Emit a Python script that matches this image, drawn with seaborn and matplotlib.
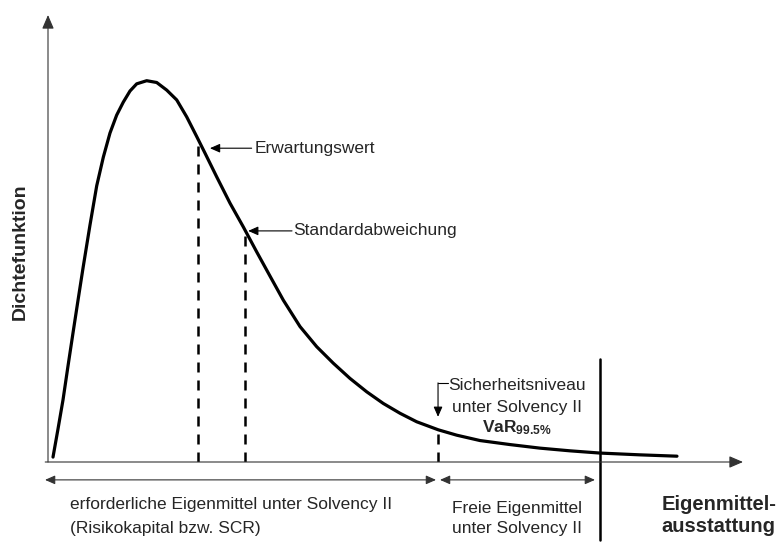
import numpy as np
import matplotlib
matplotlib.use("Agg")
import matplotlib.pyplot as plt
import seaborn as sns
import pandas as pd

sns.set_style("white")
plt.rcParams["font.family"] = ["Liberation Sans", "DejaVu Sans"]
plt.rcParams["mathtext.fontset"] = "custom"
plt.rcParams["mathtext.rm"] = "Liberation Sans"
plt.rcParams["mathtext.bf"] = "Liberation Sans:bold"

# Dichtekurve
eigenmittel = [0.72, 1.44, 2.16, 2.88, 3.60, 4.32, 5.04, 6.04, 7.01, 7.96, 8.92,
               9.88, 10.83, 11.80, 12.76, 14.20, 15.64, 17.08, 18.52, 19.96, 21.40,
               22.59, 24.27, 26.19, 28.10, 30.03, 31.94, 33.86, 36.26, 38.66, 41.05,
               43.45, 45.86, 48.24, 50.65, 53.05, 56.16, 58.81, 62.16, 66.47, 70.79,
               75.11, 79.42, 85.18, 90.50]
dichte = [0.011, 0.074, 0.139, 0.215, 0.289, 0.362, 0.434, 0.530, 0.618, 0.682, 0.736,
          0.776, 0.805, 0.830, 0.846, 0.853, 0.849, 0.832, 0.810, 0.772, 0.728,
          0.691, 0.638, 0.579, 0.526, 0.470, 0.416, 0.362, 0.303, 0.258, 0.221,
          0.187, 0.157, 0.131, 0.109, 0.090, 0.072, 0.060, 0.048, 0.039, 0.031,
          0.025, 0.020, 0.016, 0.013]

# Kennzahlen: Erwartungswert, Standardabweichung, VaR 99.5%
kennzahl_x = [21.63, 28.35, 56.12]
kennzahl_y = [0.715, 0.519, 0.072]
eigenmittel_vorhanden = 79.42

df = pd.DataFrame({"x": eigenmittel, "y": dichte})

fig = plt.figure(figsize=(7.77, 5.45), dpi=100)
ax = fig.add_axes([48 / 777, 83 / 545, 695 / 777, 447 / 545])
ax.set_xlim(0, 100)
ax.set_ylim(0, 1)
ax.axis("off")

sns.lineplot(data=df, x="x", y="y", sort=False, estimator=None, color="black",
             linewidth=2.3, ax=ax, clip_on=False, solid_joinstyle="round",
             solid_capstyle="round")

# Achsen mit Pfeilen
pfeil = dict(arrowstyle="-|>,head_length=0.7,head_width=0.3", color="#333333",
             lw=0.8, shrinkA=0, shrinkB=0, mutation_scale=12)
ax.annotate("", xy=(100, 0), xytext=(-0.4, 0), arrowprops=pfeil, annotation_clip=False)
ax.annotate("", xy=(0, 1), xytext=(0, 0), arrowprops=pfeil, annotation_clip=False)

# gestrichelte Linien
for kx, ky in zip(kennzahl_x, kennzahl_y):
    ax.plot([kx, kx], [0, ky], color="black", lw=1.8, linestyle=(0, (4, 3.2)))

# vorhandene Eigenmittel
ax.plot([eigenmittel_vorhanden, eigenmittel_vorhanden], [0.23, -0.175], color="black",
        lw=1.8, clip_on=False)

# Beschriftungen
schrift = 12.5
klein_pfeil = dict(arrowstyle="-|>,head_length=0.5,head_width=0.22", color="black",
                   lw=0.8, shrinkA=0, shrinkB=0, mutation_scale=12)
ax.annotate("", xy=(23.3, 0.702), xytext=(29.3, 0.702), arrowprops=klein_pfeil)
ax.text(29.78, 0.702, "Erwartungswert", fontsize=schrift, va="center", ha="left")
ax.annotate("", xy=(28.8, 0.517), xytext=(35.11, 0.517), arrowprops=klein_pfeil)
ax.text(35.25, 0.517, "Standardabweichung", fontsize=schrift, va="center", ha="left")

ax.plot([57.55, 56.12], [0.177, 0.177], color="black", lw=0.8)
ax.annotate("", xy=(56.12, 0.101), xytext=(56.12, 0.177), arrowprops=klein_pfeil)
ax.text(67.48, 0.172, "Sicherheitsniveau", fontsize=schrift, va="center", ha="center")
ax.text(67.48, 0.123, "unter Solvency II", fontsize=schrift, va="center", ha="center")
ax.text(67.48, 0.076, r"$\mathbf{VaR_{99.5\%}}$", fontsize=schrift, va="center", ha="center")

# Bereiche unter der Achse
doppel = dict(arrowstyle="<|-|>,head_length=0.5,head_width=0.22", color="#333333",
              lw=0.8, shrinkA=0, shrinkB=0, mutation_scale=12)
ax.annotate("", xy=(-0.43, -0.04), xytext=(55.83, -0.04), arrowprops=doppel,
            annotation_clip=False)
ax.annotate("", xy=(56.4, -0.04), xytext=(78.7, -0.04), arrowprops=doppel,
            annotation_clip=False)

ax.text(3.17, -0.096, "erforderliche Eigenmittel unter Solvency II", fontsize=schrift,
        va="center", ha="left")
ax.text(3.17, -0.148, "(Risikokapital bzw. SCR)", fontsize=schrift, va="center", ha="left")
ax.text(67.48, -0.103, "Freie Eigenmittel", fontsize=schrift, va="center", ha="center")
ax.text(67.48, -0.148, "unter Solvency II", fontsize=schrift, va="center", ha="center")

ax.text(96.5, -0.096, "Eigenmittel-", fontsize=14.5, fontweight="bold", va="center",
        ha="center")
ax.text(96.5, -0.145, "ausstattung", fontsize=14.5, fontweight="bold", va="center",
        ha="center")
ax.text(-3.95, 0.47, "Dichtefunktion", fontsize=14, fontweight="bold", rotation=90,
        va="center", ha="center")

fig.savefig("out.png", dpi=100)
